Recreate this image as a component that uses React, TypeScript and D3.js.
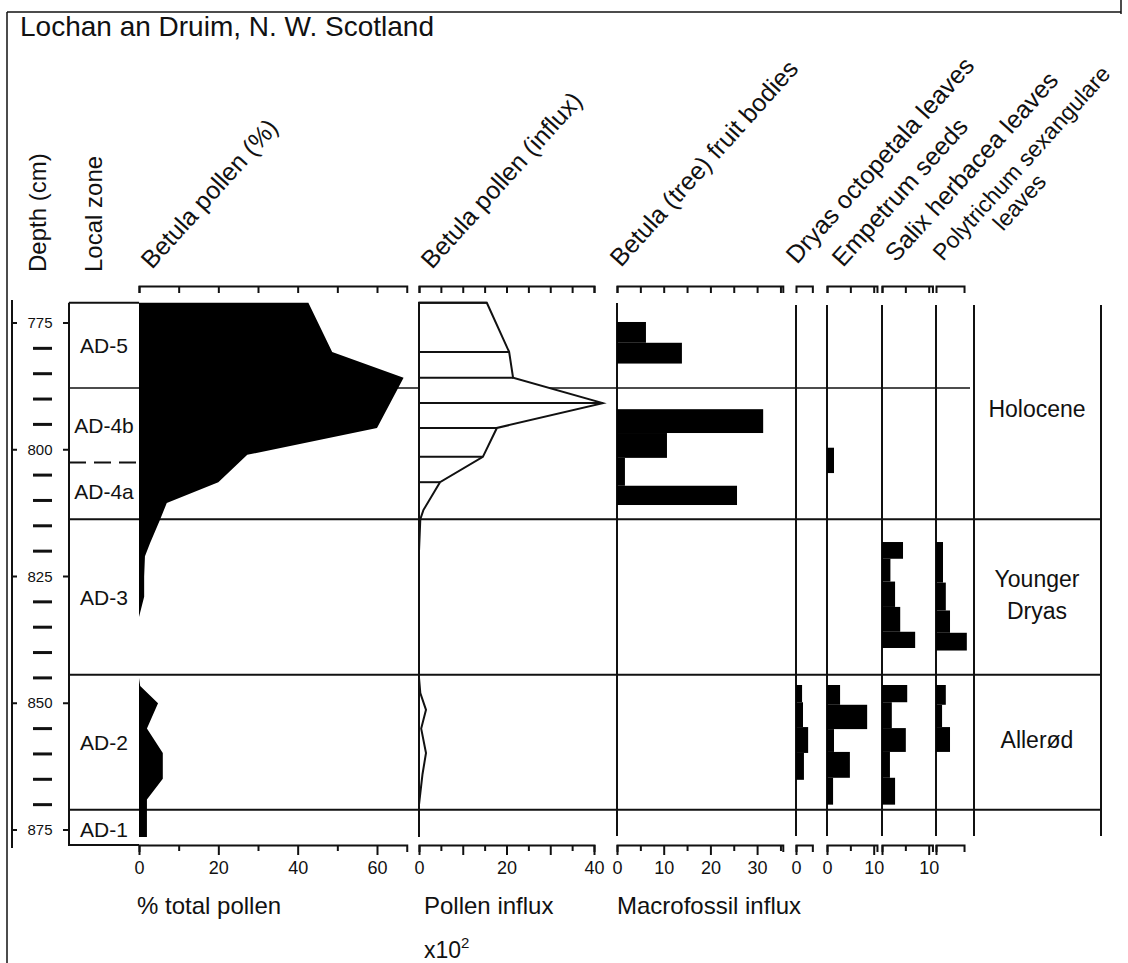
import React, { useEffect, useRef } from "react";
import * as d3 from "d3";

// Betula pollen (% total pollen) by depth (cm)
const pctDepth = [771, 780.7, 785.8, 795.7, 801, 806.4, 810.5, 813.8, 818.4, 821, 825, 829, 833, 845, 846.6, 850, 855, 859.8, 864.9, 869, 876.4];
const pctValue = [42.7, 48.7, 66.7, 60, 27.3, 20, 7, 5.3, 2.8, 1.5, 1.3, 1.3, 0, 0, 0.3, 4.8, 2, 6, 6, 2, 2];

// Betula pollen influx (x10^2)
const influxDepth = [771, 780.7, 785.8, 790.8, 795.7, 801.4, 806.4, 811.9, 813.7, 820, 845, 848, 851.3, 855, 859.8, 864, 870, 876.4];
const influxValue = [15.5, 20.6, 21.5, 42, 17.8, 14.6, 4.8, 1, 0.3, 0, 0, 0.3, 1.6, 0.5, 1.6, 0.8, 0, 0];

// macrofossil influx: [top depth, bottom depth, value]
const betulaFruit = [[774.8, 778.9, 6.2], [778.9, 783, 13.9], [792, 796.7, 31.3], [796.7, 801.6, 10.7], [801.6, 807.1, 1.7], [807.1, 810.9, 25.7]];
const dryasLeaves = [[846.4, 849.8, 1.3], [849.8, 854.7, 1.5], [854.7, 859.8, 2.6], [859.8, 865.1, 1.7]];
const empetrumSeeds = [[799.6, 804.6, 1.5], [846.4, 850.3, 2.8], [850.3, 855.1, 8.6], [855.1, 859.6, 1.5], [859.6, 864.7, 4.9], [864.7, 870, 1.3]];
const salixLeaves = [[818.2, 821.5, 4.5], [821.5, 826, 1.8], [826, 831, 2.8], [831, 835.9, 3.9], [835.9, 839.1, 7.1],
  [846.4, 849.8, 5.4], [849.8, 854.9, 2.1], [854.9, 859.6, 5.1], [859.6, 864.7, 1.7], [864.7, 870, 2.8]];
const polytrichumLeaves = [[818.2, 826.2, 1.5], [826.2, 831.7, 2.1], [831.7, 836.1, 3.0], [836.1, 839.6, 6.6],
  [846.4, 850.3, 2.1], [850.3, 854.7, 1.3], [854.7, 859.6, 3.0]];

const zoneNames = ["AD-5", "AD-4b", "AD-4a", "AD-3", "AD-2", "AD-1"];
const zoneBounds = [771, 787.8, 802.5, 813.7, 844.4, 871, 878.5];
const chronoNames = [["Holocene"], ["Younger", "Dryas"], ["Allerød"]];
const chronoBounds = [771, 813.7, 844.4, 871];

const depthTicks = d3.range(775, 880, 5);
const depthLabels = [775, 800, 825, 850, 875];

const App = () => {
  const svgRef = useRef<SVGSVGElement>(null);
  const width = 1128;
  const height = 963;

  useEffect(() => {
    const svg = d3.select(svgRef.current);
    svg.selectAll("*").remove();
    const font = "'Liberation Sans', Arial, Helvetica, sans-serif";
    const ink = "#111";

    const y = d3.scaleLinear().domain([775, 875]).range([323, 830]);
    const unit = 4.67; // px per macrofossil unit

    const pctX = d3.scaleLinear().domain([0, 60]).range([139, 377]);
    const influxX = d3.scaleLinear().domain([0, 40]).range([419, 594]);
    const mScale = (x0: number) => d3.scaleLinear().domain([0, 10]).range([x0, x0 + 10 * unit]);
    const betX = mScale(617);
    const dryX = mScale(796);
    const empX = mScale(827);
    const salX = mScale(882);
    const polX = mScale(936);

    const line = (x1, y1, x2, y2, w = 2, dash = null) => {
      const l = svg.append("line").attr("x1", x1).attr("y1", y1).attr("x2", x2).attr("y2", y2)
        .attr("stroke", ink).attr("stroke-width", w);
      if (dash) l.attr("stroke-dasharray", dash);
      return l;
    };
    const text = (s, x, yy, size, anchor = "start") =>
      svg.append("text").attr("x", x).attr("y", yy).attr("font-family", font).attr("font-size", size)
        .attr("fill", ink).attr("text-anchor", anchor).text(s);

    // frame
    line(7, 12, 1121, 12, 1.5);
    line(7, 12, 7, 963, 1.5);
    line(1121, 0, 1121, 14, 1.5);

    text("Lochan an Druim, N. W. Scotland", 20, 36, 28);

    // headers
    const vHead = (s, x) => text(s, 0, 0, 24).attr("transform", `translate(${x},272) rotate(-90)`);
    vHead("Depth (cm)", 46);
    vHead("Local zone", 102);
    const dHead = (s, x, yy, size = 25) => text(s, 0, 0, size).attr("transform", `translate(${x},${yy}) rotate(-48)`);
    dHead("Betula pollen (%)", 152, 270);
    dHead("Betula pollen (influx)", 432, 270);
    dHead("Betula (tree) fruit bodies", 621, 268);
    dHead("Dryas octopetala leaves", 797, 265);
    dHead("Empetrum seeds", 843, 268);
    dHead("Salix herbacea leaves", 896, 263);
    dHead("Polytrichum sexangulare", 943, 262, 23);
    dHead("leaves", 1003, 232, 23);

    // zone boundaries
    line(69, y(zoneBounds[0]), 139, y(zoneBounds[0]));
    line(69, y(zoneBounds[1]), 970, y(zoneBounds[1]), 1.5);
    line(69, y(zoneBounds[2]), 138, y(zoneBounds[2]), 2, "17 8");
    [3, 4, 5].forEach(i => line(69, y(zoneBounds[i]), 1101, y(zoneBounds[i]), 2));
    line(69, y(zoneBounds[0]), 69, 846);
    line(69, 845, 139, 845);

    // column frame lines
    line(influxX(0), 302, influxX(0), 836);
    line(betX(0), 303, betX(0), 836);
    [dryX(0), empX(0), salX(0), polX(0), 974, 1101].forEach(x => line(x, 305, x, 836));

    // depth axis
    line(12, 300, 12, 848);
    depthTicks.forEach(d => {
      if (depthLabels.includes(d)) {
        line(12, y(d), 17, y(d));
        line(63, y(d), 69, y(d));
        text(String(d), 40, y(d) + 5, 15, "middle");
      } else {
        line(33, y(d), 52, y(d), 3);
      }
    });

    // zone labels
    zoneNames.forEach((z, i) => {
      const mid = (zoneBounds[i] + zoneBounds[i + 1]) / 2;
      text(z, 104, y(mid) + 8, 21, "middle");
    });
    chronoNames.forEach((lines, i) => {
      const mid = y((chronoBounds[i] + chronoBounds[i + 1]) / 2);
      lines.forEach((s, j) => text(s, 1037, mid + 6 + (j - (lines.length - 1) / 2) * 32, 23, "middle"));
    });

    // Betula pollen %
    const pct = pctDepth.map((d, i) => ({ d, v: pctValue[i] }));
    svg.append("path").datum(pct)
      .attr("d", d3.area<any>().y(p => y(p.d)).x0(pctX(0)).x1(p => pctX(p.v)))
      .attr("fill", "#000");

    // Betula pollen influx
    const inf = influxDepth.map((d, i) => ({ d, v: influxValue[i] }));
    svg.append("path").datum(inf)
      .attr("d", d3.area<any>().y(p => y(p.d)).x0(influxX(0)).x1(p => influxX(p.v)))
      .attr("fill", "#fff").attr("stroke", ink).attr("stroke-width", 2);
    inf.filter(p => p.v >= 4).forEach(p => line(influxX(0), y(p.d), influxX(p.v), y(p.d), 2));

    // macrofossil bars
    const bars = (data, sc) => {
      svg.append("g").selectAll("rect").data(data).enter().append("rect")
        .attr("x", sc(0)).attr("y", d => y(d[0]))
        .attr("width", d => sc(d[2]) - sc(0)).attr("height", d => y(d[1]) - y(d[0]))
        .attr("fill", "#000");
    };
    bars(betulaFruit, betX);
    bars(dryasLeaves, dryX);
    bars(empetrumSeeds, empX);
    bars(salixLeaves, salX);
    bars(polytrichumLeaves, polX);

    // axes
    const styleAxis = g => {
      g.selectAll("path,line").attr("stroke", ink).attr("stroke-width", 2);
      g.selectAll("text").attr("font-family", font).attr("font-size", 18).attr("fill", ink);
      return g;
    };
    const cols = [
      { sc: pctX, max: 67.5, top: d3.range(0, 70, 10), major: [0, 20, 40, 60], minor: [10, 30, 50], labels: [0, 20, 40, 60] },
      { sc: influxX, max: 40, top: d3.range(0, 45, 5), major: [0, 10, 20, 30, 40], minor: [5, 15, 25, 35], labels: [0, 20, 40] },
      { sc: betX, max: 35.5, top: d3.range(0, 40, 5), major: [0, 10, 20, 30], minor: [5, 15, 25, 35], labels: [0, 10, 20, 30] },
      { sc: dryX, max: 3.5, top: [], major: [0], minor: [], labels: [0] },
      { sc: empX, max: 10.7, top: [0, 5, 10], major: [0, 10], minor: [5], labels: [0, 10] },
      { sc: salX, max: 10.8, top: [0, 5, 10], major: [0, 10], minor: [5], labels: [10] },
      { sc: polX, max: 6, top: [], major: [0], minor: [], labels: [] },
    ];
    cols.forEach(c => {
      const s = c.sc.copy().domain([0, c.max]).range([c.sc(0), c.sc(c.max)]);
      styleAxis(svg.append("g").attr("transform", "translate(0,286)")
        .call(d3.axisBottom(s).tickValues(c.top).tickSize(7).tickSizeOuter(7).tickFormat(() => "")));
      styleAxis(svg.append("g").attr("transform", "translate(0,845)")
        .call(d3.axisBottom(s).tickValues(c.major).tickSize(10).tickSizeOuter(7).tickPadding(6)
          .tickFormat(v => (c.labels.includes(v as number) ? String(v) : ""))));
      const mg = styleAxis(svg.append("g").attr("transform", "translate(0,845)")
        .call(d3.axisBottom(s).tickValues(c.minor).tickSize(6).tickFormat(() => "")));
      mg.select(".domain").remove();
    });

    text("% total pollen", 137, 914, 24);
    text("Pollen influx", 424, 914, 24);
    text("Macrofossil influx", 617, 914, 24);
    const xt = text("x10", 424, 958, 23);
    xt.append("tspan").attr("dy", -10).attr("font-size", 15).text("2");
  }, []);

  return <svg ref={svgRef} width={width} height={height}
    style={{ position: "absolute", left: 0, top: 0, background: "#fff", display: "block" }} />;
};

export default App;
